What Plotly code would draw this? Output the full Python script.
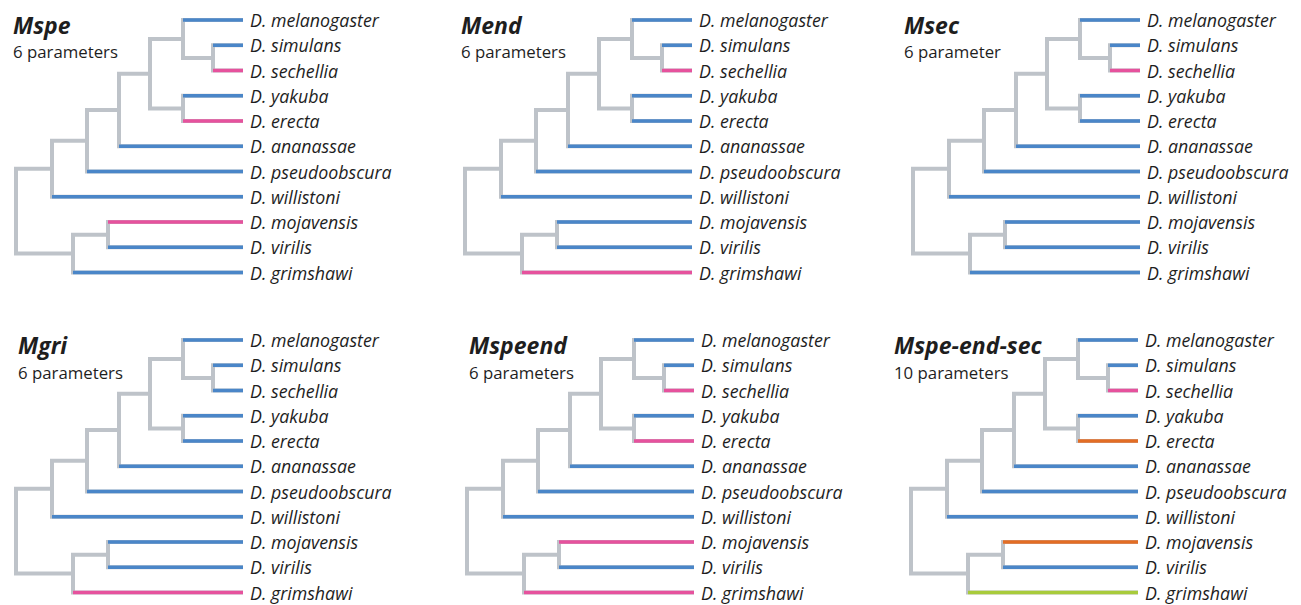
import plotly.graph_objects as go

# ---------------- data ----------------
species = ["D. melanogaster", "D. simulans", "D. sechellia", "D. yakuba", "D. erecta",
           "D. ananassae", "D. pseudoobscura", "D. willistoni", "D. mojavensis",
           "D. virilis", "D. grimshawi"]
tip_depth = 227

# internal nodes: name, depth, children
node_names = ["root", "n_wil", "n_pse", "n_ana", "n_my", "n_ms", "n_ss", "n_ye", "n_gri", "n_mv"]
node_depths = [0, 36, 71, 103, 134, 167, 197, 167, 57, 92]
node_children = [
    ["n_wil", "n_gri"],
    ["n_pse", "D. willistoni"],
    ["n_ana", "D. pseudoobscura"],
    ["n_my", "D. ananassae"],
    ["n_ms", "n_ye"],
    ["D. melanogaster", "n_ss"],
    ["D. simulans", "D. sechellia"],
    ["D. yakuba", "D. erecta"],
    ["n_mv", "D. grimshawi"],
    ["D. mojavensis", "D. virilis"],
]

model_names = ["Mspe", "Mend", "Msec", "Mgri", "Mspeend", "Mspe-end-sec"]
model_params = ["6 parameters", "6 parameters", "6 parameter", "6 parameters", "6 parameters", "10 parameters"]
model_highlight = [
    {"D. sechellia": "pink", "D. erecta": "pink", "D. mojavensis": "pink"},
    {"D. sechellia": "pink", "D. grimshawi": "pink"},
    {"D. sechellia": "pink"},
    {"D. grimshawi": "pink"},
    {"D. sechellia": "pink", "D. erecta": "pink", "D. mojavensis": "pink", "D. grimshawi": "pink"},
    {"D. sechellia": "pink", "D. erecta": "orange", "D. mojavensis": "orange", "D. grimshawi": "green"},
]

# ---------------- style / layout ----------------
W, H = 1301, 605
palette = {"base": "#4a86c8", "pink": "#e6529d", "orange": "#e36d24", "green": "#a8cb3b"}
gray = "#bec3c9"
text_col = "#1e1e1e"
FONT = "Open Sans"
leaf_step = 25.25
pad = 6
# panel placement in pixels: root x, first leaf y, title x
panel_root_x = [16, 465, 913, 16, 467, 911]
panel_leaf0_y = [20, 20, 20, 340, 340, 340]
panel_title_x = [11, 459, 902, 16, 467, 892]

# ---------------- tree geometry (data units) ----------------
depth = {n: d for n, d in zip(node_names, node_depths)}
for s in species:
    depth[s] = tip_depth
children = {n: c for n, c in zip(node_names, node_children)}
ypos = {s: i for i, s in enumerate(species)}

def get_y(n):
    if n not in ypos:
        ypos[n] = sum(get_y(c) for c in children[n]) / len(children[n])
    return ypos[n]

get_y("root")

fig = go.Figure()
layout_axes = {}
annotations = []

for k in range(6):
    ax = "" if k == 0 else str(k + 1)
    xr, yr = "x" + ax, "y" + ax
    # gray skeleton
    gx, gy = [], []
    for n in node_names:
        a, b = children[n]
        gx += [depth[a], depth[n], depth[n], depth[b], None]
        gy += [get_y(a), get_y(a), get_y(b), get_y(b), None]
    fig.add_trace(go.Scatter(x=gx, y=gy, mode="lines", line=dict(color=gray, width=4),
                             hoverinfo="skip", showlegend=False, xaxis=xr, yaxis=yr))
    # coloured terminal branches
    groups = {}
    for n in node_names:
        for c in children[n]:
            if c in species:
                col = model_highlight[k].get(c, "base")
                groups.setdefault(col, ([], []))
                groups[col][0].extend([depth[n], depth[c], None])
                groups[col][1].extend([get_y(c), get_y(c), None])
    for col, (lx, ly) in groups.items():
        fig.add_trace(go.Scatter(x=lx, y=ly, mode="lines", line=dict(color=palette[col], width=3.6),
                                 hoverinfo="skip", showlegend=False, xaxis=xr, yaxis=yr))
    # axes: 1 data unit = 1 px horizontally
    x0 = panel_root_x[k] - pad
    x1 = panel_root_x[k] + tip_depth + pad
    ytop = max(0.0, panel_leaf0_y[k] - 0.5 * leaf_step)
    ybot = min(float(H), panel_leaf0_y[k] + (len(species) - 0.5) * leaf_step)
    r_top = (ytop - panel_leaf0_y[k]) / leaf_step
    r_bot = (ybot - panel_leaf0_y[k]) / leaf_step
    layout_axes["xaxis" + ax] = dict(domain=[x0 / W, x1 / W], range=[-pad, tip_depth + pad],
                                     visible=False, fixedrange=True, anchor=yr)
    layout_axes["yaxis" + ax] = dict(domain=[1 - ybot / H, 1 - ytop / H],
                                     range=[r_bot, r_top],
                                     visible=False, fixedrange=True, anchor=xr)
    for s in species:
        annotations.append(dict(x=tip_depth, y=ypos[s], xref=xr, yref=yr, text="<i>" + s + "</i>",
                                showarrow=False, xanchor="left", yanchor="middle", xshift=5,
                                font=dict(family=FONT, size=17.8, color=text_col)))
    # titles
    annotations.append(dict(x=panel_title_x[k] / W, y=1 - (panel_leaf0_y[k] + 5) / H,
                            xref="paper", yref="paper", text="<b><i>" + model_names[k] + "</i></b>",
                            showarrow=False, xanchor="left", yanchor="middle",
                            font=dict(family=FONT, size=23, color=text_col)))
    annotations.append(dict(x=panel_title_x[k] / W, y=1 - (panel_leaf0_y[k] + 32) / H,
                            xref="paper", yref="paper", text=model_params[k],
                            showarrow=False, xanchor="left", yanchor="middle",
                            font=dict(family=FONT, size=16.8, color=text_col)))

fig.update_layout(width=W, height=H, margin=dict(l=0, r=0, t=0, b=0),
                  paper_bgcolor="white", plot_bgcolor="white",
                  annotations=annotations, **layout_axes)
fig.write_html("out.html", config={"displayModeBar": False},
               post_script="document.body.style.margin='0';document.body.style.overflow='hidden';")
